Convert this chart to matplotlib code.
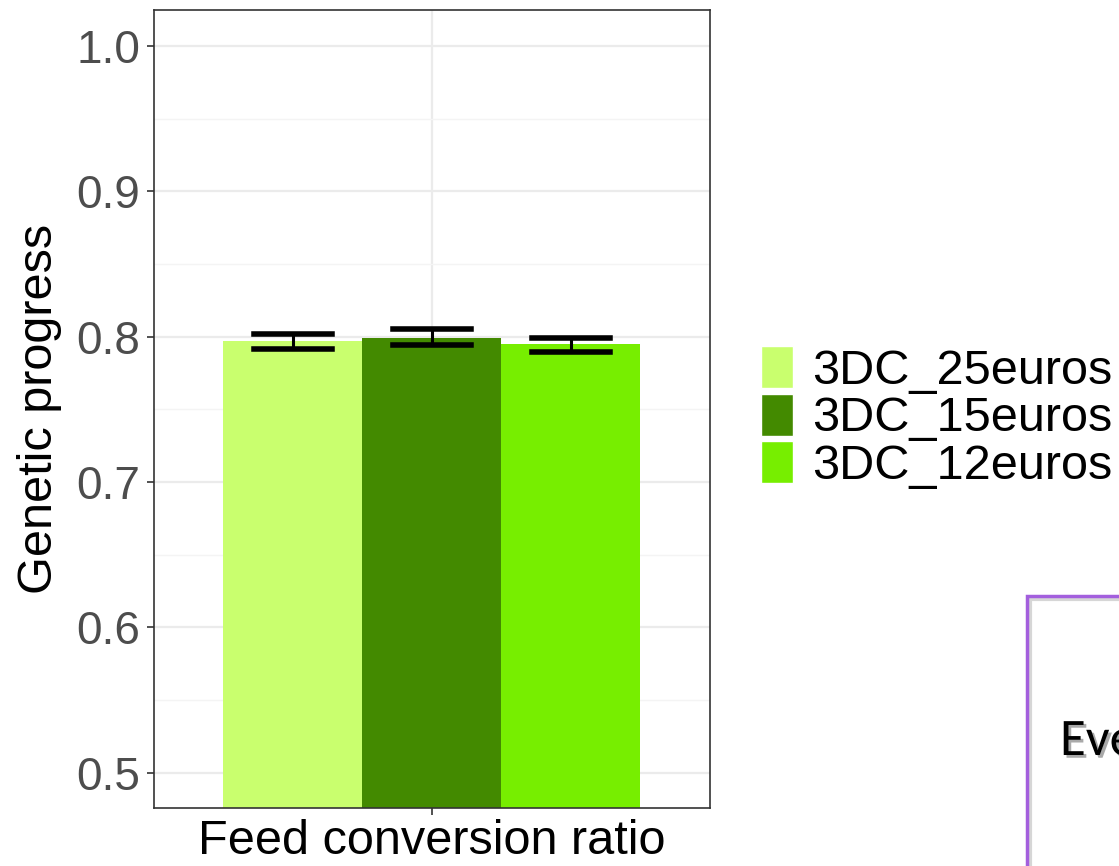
import matplotlib.pyplot as plt
import matplotlib.patheffects as pe
from matplotlib.patches import Patch, Rectangle
from matplotlib import font_manager

# data
groups = ["3DC_25euros", "3DC_15euros", "3DC_12euros"]
colors = ["#C9FF6E", "#438A00", "#77EE00"]
means = [0.7966, 0.7987, 0.7946]
err_lo = [0.7917, 0.7942, 0.7896]
err_hi = [0.8020, 0.8052, 0.7991]
trait = "Feed conversion ratio"
box_text = "Eve"

plt.rcParams["font.family"] = ["Liberation Sans", "DejaVu Sans"]

# narrow, Calibri-like face for the slide text if one is around
installed = {f.name for f in font_manager.fontManager.ttflist}
box_font = "Lato"
for name in ["Carlito", "Liberation Sans Narrow", "Lato"]:
    if name in installed:
        box_font = name
        break

W, H = 1119, 866
fig = plt.figure(figsize=(W / 100, H / 100), dpi=100)
ax = fig.add_axes([154 / W, 1 - 808 / H, 556 / W, 798 / H])

width = 0.3
for i, g in enumerate(groups):
    x = 1 + (i - 1) * width
    ax.bar(x, means[i], width=width, bottom=0, color=colors[i], zorder=2)
    ax.plot([x, x], [err_lo[i], err_hi[i]], color="black", lw=2.2, zorder=3)
    for yv in (err_lo[i], err_hi[i]):
        ax.plot([x - 0.084, x + 0.084], [yv, yv], color="black", lw=4, zorder=3)

ax.set_xlim(0.4, 1.6)
ax.set_ylim(0.4756, 1.0247)
ax.set_xticks([1])
ax.set_xticklabels([trait])
ax.set_yticks([0.5, 0.6, 0.7, 0.8, 0.9, 1.0])
ax.set_yticks([0.55, 0.65, 0.75, 0.85, 0.95], minor=True)
ax.grid(True, which="major", color="#EBEBEB", lw=1.6, zorder=0)
ax.grid(True, which="minor", axis="y", color="#F4F4F4", lw=1.0, zorder=0)
ax.set_axisbelow(True)
ax.tick_params(axis="both", which="major", labelsize=33, colors="#333333",
               labelcolor="#4D4D4D", length=5, width=1.2, pad=5)
ax.tick_params(axis="x", labelcolor="black", labelsize=35, pad=3)
ax.tick_params(which="minor", length=0)
for s in ax.spines.values():
    s.set_color("#333333")
    s.set_linewidth(1.2)
ax.set_ylabel("Genetic progress", fontsize=35, labelpad=10)

handles = [Patch(facecolor=c, edgecolor="white", lw=1) for c in colors]
fig.legend(handles, groups, loc="center left", bbox_to_anchor=(761 / W, 0.518),
           frameon=False, fontsize=35, handlelength=0.66, handleheight=0.95,
           handletextpad=0.4, labelspacing=0.0, borderpad=0, borderaxespad=0)

# partially visible slide box in the corner, with a soft inner shadow
bx, by = 1027 / W, 1 - 596 / H
fig.patches.append(Rectangle((bx, -0.1), 0.2, by + 0.1, transform=fig.transFigure,
                             facecolor="white", edgecolor="none"))
fig.patches.append(Rectangle((bx + 3 / W, -0.1), 0.2, by + 0.1 - 3 / H,
                             transform=fig.transFigure, facecolor="none",
                             edgecolor="#D6D6D6", lw=3))
fig.patches.append(Rectangle((bx, -0.1), 0.2, by + 0.1, transform=fig.transFigure,
                             facecolor="none", edgecolor="#A35FDD", lw=2.5))
fig.text(1060 / W, 1 - 755 / H, box_text, fontsize=38, family=box_font,
         fontstretch="condensed",
         path_effects=[pe.withSimplePatchShadow(offset=(2, -2),
                                                shadow_rgbFace="#A0A0A0", alpha=0.9)])

fig.savefig("out.png", dpi=100)
